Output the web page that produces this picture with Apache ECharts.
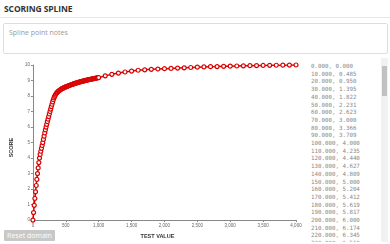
<!DOCTYPE html>
<html><head><meta charset="utf-8">
<script src="https://cdn.jsdelivr.net/npm/echarts@6/dist/echarts.min.js"></script>
<style>
html,body{margin:0;padding:0;background:#fff;width:390px;height:244px;overflow:hidden;font-family:"Open Sans",sans-serif;}
#title{position:absolute;left:4px;top:3px;font-size:8.5px;font-weight:bold;color:#333;letter-spacing:-0.1px;}
#rule{position:absolute;left:0;top:17px;width:390px;height:1px;background:#e8e8e8;}
#notes{position:absolute;left:3px;top:23px;width:383px;height:29px;border:1px solid #ddd;border-radius:2px;}
#notes span{position:absolute;left:5px;top:4px;font-size:7px;color:#999;}
#chart{position:absolute;left:0;top:56px;width:305px;height:188px;}
#list{position:absolute;left:305px;top:58px;width:83px;height:184px;overflow:hidden;}
#listtext{position:absolute;left:6px;top:5px;font-family:"DejaVu Sans Mono",monospace;font-size:5.8px;line-height:7.7px;color:#888;white-space:pre;}
#sb{position:absolute;left:76px;top:0;width:7px;height:184px;background:#f1f1f1;}
#thumb{position:absolute;left:1px;top:8px;width:5px;height:30px;background:#c1c1c1;}
#btn{position:absolute;left:4px;top:230px;width:51px;height:11px;background:#c8c8c8;color:#fff;font-size:7px;line-height:11px;text-align:center;border-radius:1px;}
</style></head>
<body>
<div id="title">SCORING SPLINE</div>
<div id="rule"></div>
<div id="notes"><span>Spline point notes</span></div>
<div id="chart"></div>
<div id="list"><div id="listtext"></div><div id="sb"><div id="thumb"></div></div></div>
<div id="btn">Reset domain</div>
<script>
const testValues = [0,10,20,30,40,50,60,70,80,90,100,110,120,130,140,150,160,170,180,190,200,210,220,230,240,250,260,270,280,290,300,310,320,330,340,350,360,370,380,390,400,410,420,430,440,450,460,470,480,490,500,510,520,530,540,550,560,570,580,590,600,610,620,630,640,650,660,670,680,690,700,710,720,730,740,750,760,770,780,790,800,810,820,830,840,850,860,870,880,890,900,910,920,930,940,950,960,970,980,990,1000,1100,1200,1300,1400,1500,1600,1700,1800,1900,2000,2100,2200,2300,2400,2500,2600,2700,2800,2900,3000,3100,3200,3300,3400,3500,3600,3700,3800,3900,4000];
const scores = [0.000,0.485,0.950,1.395,1.822,2.231,2.623,3.000,3.366,3.709,4.000,4.235,4.440,4.627,4.809,5.000,5.204,5.412,5.619,5.817,6.000,6.174,6.345,6.510,6.675,6.840,7.000,7.160,7.320,7.470,7.620,7.760,7.880,7.980,8.060,8.130,8.190,8.240,8.280,8.320,8.350,8.380,8.410,8.440,8.465,8.490,8.510,8.530,8.550,8.570,8.590,8.608,8.626,8.643,8.660,8.677,8.693,8.709,8.725,8.740,8.755,8.770,8.784,8.798,8.812,8.826,8.839,8.852,8.865,8.878,8.890,8.902,8.914,8.926,8.938,8.949,8.960,8.971,8.982,8.993,9.004,9.014,9.024,9.034,9.044,9.054,9.064,9.073,9.082,9.091,9.100,9.109,9.118,9.127,9.136,9.145,9.154,9.163,9.172,9.181,9.190,9.300,9.400,9.480,9.550,9.610,9.660,9.690,9.720,9.740,9.760,9.780,9.800,9.820,9.840,9.860,9.875,9.890,9.900,9.915,9.925,9.935,9.945,9.955,9.963,9.970,9.977,9.984,9.990,9.995,10.000];
const xTicks = [0,500,1000,1500,2000,2500,3000,3500,4000];
const yTicks = [0,1,2,3,4,5,6,7,8,9,10];

document.getElementById('listtext').textContent = testValues.map((v,i)=>v.toFixed(3)+', '+scores[i].toFixed(3)).join('\n');

const chart = echarts.init(document.getElementById('chart'), null, {renderer:'canvas'});
const red = '#d90000';
chart.setOption({
  animation:false,
  grid:{left:24,right:9,top:9,bottom:23},
  xAxis:{type:'value',min:xTicks[0],max:xTicks[xTicks.length-1],interval:500,
    name:'TEST VALUE',nameLocation:'middle',nameGap:12,
    nameTextStyle:{fontSize:5.5,fontWeight:'bold',color:'#333',padding:[0,14,0,0]},
    axisLine:{lineStyle:{color:'#888',width:1}},axisTick:{length:2,lineStyle:{color:'#888'}},
    axisLabel:{fontSize:4.5,color:'#666',margin:3,formatter:v=>v.toLocaleString('en-US')},
    splitLine:{show:false}},
  yAxis:{type:'value',min:yTicks[0],max:yTicks[yTicks.length-1],interval:1,
    name:'SCORE',nameLocation:'middle',nameGap:12,nameRotate:90,
    nameTextStyle:{fontSize:5.5,fontWeight:'bold',color:'#333',padding:[0,10,0,0]},
    axisLine:{show:true,lineStyle:{color:'#888',width:1}},axisTick:{show:true,length:2,lineStyle:{color:'#888'}},
    axisLabel:{fontSize:4.5,color:'#666',margin:3},
    splitLine:{show:false}},
  series:[{type:'line',data:testValues.map((v,i)=>[v,scores[i]]),
    symbol:'circle',symbolSize:4,showAllSymbol:true,
    lineStyle:{color:red,width:1.5},
    itemStyle:{color:'#fff',borderColor:red,borderWidth:1.2}}]
});
</script>
</body></html>
